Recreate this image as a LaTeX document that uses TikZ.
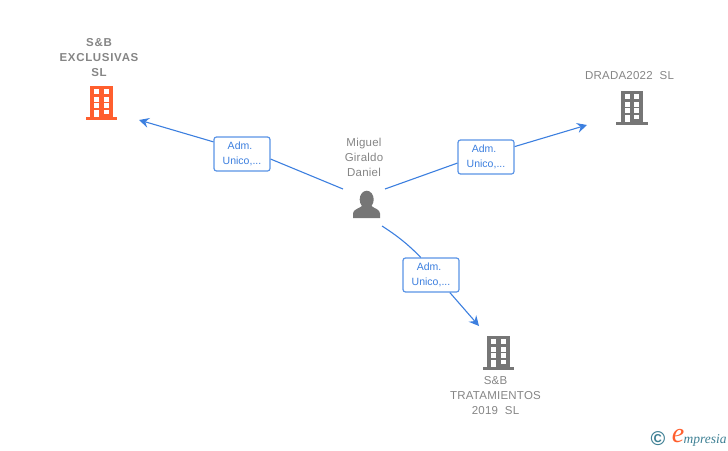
\documentclass[tikz,border=0pt]{standalone}
\usepackage{fontspec}
\setmainfont{Liberation Sans}
\newfontfamily\namefont[LetterSpace=2]{Liberation Sans}
\newfontfamily\boldnamefont[LetterSpace=6]{Liberation Sans Bold}
\newfontfamily\logofont{Liberation Serif}
\usepackage{tikz}
\usetikzlibrary{positioning,
                arrows.meta}

\definecolor{linkblue}{HTML}{3C7FDF}
\definecolor{boxblue}{HTML}{5A94E6}
\definecolor{greyicon}{HTML}{767676}
\definecolor{greytext}{HTML}{858585}
\definecolor{orangeicon}{HTML}{FF5F2E}
\definecolor{logoteal}{HTML}{3E8094}

\tikzset{
  rolebox/.style={draw=boxblue, line width=1.2pt, rounded corners=2.5pt, fill=white,
                  minimum width=56pt, minimum height=34pt, inner sep=0pt, text=linkblue,
                  align=center, font=\fontsize{10.5}{15}\selectfont},
  firmname/.style={text=greytext, align=center, inner sep=0pt,
                   font=\namefont\fontsize{11.5}{15}\selectfont},
  link/.style={draw=linkblue, line width=1.1pt},
  linkarrow/.style={link, -{Stealth[length=10pt, width=10pt, inset=3.5pt]}},
  pics/building/.style={code={
    \fill[#1] (0,0) rectangle (22.5,31);
    \fill[#1] (-4.5,31) rectangle (27,34);
    \foreach \y in {3.5,11,17.5}
    { \fill[white] (4,\y) rectangle (9,\y+5);
      \fill[white] (13.5,\y) rectangle (18.5,\y+5);
    }
    \fill[white] (4,24) rectangle (9,31);
    \fill[white] (13.5,24) rectangle (18.5,28);
  }}
}

\begin{document}
\begin{tikzpicture}[x=1pt, y=-1pt]
  \useasboundingbox (0,0) rectangle (728,450);

  % companies
  \pic at (90,85.7) {building=orangeicon};
  \pic at (620.5,90.5) {building=greyicon};
  \pic at (487,335.5) {building=greyicon};

  \node[firmname, font=\boldnamefont\fontsize{11.5}{15}\selectfont] (exclusivas) at (99,58) {S\&B\\EXCLUSIVAS\\SL};
  \node[firmname] (drada) at (629.5,76) {DRADA2022\ \ SL};
  \node[firmname] (tratamientos) at (495.5,396) {S\&B\\TRATAMIENTOS\\2019\ \ SL};
  \node[firmname] (miguel) at (364,157) {Miguel\\Giraldo\\Daniel};

  % person
  \fill[greyicon] (366.7,199.5) ellipse (7 and 8.8);
  \fill[greyicon] (353,218) -- (353,213.5) .. controls (353,209.5) and (359,208.5) .. (362,206)
    -- (371.5,206) .. controls (374.5,208.5) and (380,209.5) .. (380,213.5) -- (380,218) -- cycle;

  % role boxes
  \node[rolebox] (admleft) at (242,154) {\raisebox{-1pt}{Adm.\hspace*{4pt}}\\\raisebox{-1pt}{Unico,...}};
  \node[rolebox] (admright) at (486,157) {\raisebox{-1pt}{Adm.\hspace*{4pt}}\\\raisebox{-1pt}{Unico,...}};
  \node[rolebox] (admdown) at (431,275) {\raisebox{-1pt}{Adm.\hspace*{4pt}}\\\raisebox{-1pt}{Unico,...}};

  \coordinate (startleft) at (343,189);
  \coordinate (endleft) at (139,120);
  \coordinate (startright) at (385,189);
  \coordinate (endright) at (587,125);
  \coordinate (startdown) at (382,226);
  \coordinate (enddown) at (479,326);

  \draw[link] (startleft) -- (admleft.-10);
  \draw[linkarrow] (admleft.157) -- (endleft);
  \draw[link] (startright) -- (admright.192);
  \draw[linkarrow] (admright.20) -- (endright);
  \draw[link] (startdown) to[bend left=6] (admdown.120);
  \draw[linkarrow] (admdown.-43) -- (enddown);

  % logo
  \node[text=logoteal, inner sep=0pt, font=\bfseries\fontsize{20}{20}\selectfont] (copyright) at (658,438.5) {©};
  \node[text=orangeicon, inner sep=0pt, font=\logofont\itshape\fontsize{28}{28}\selectfont] (logoe) at (678,436) {e};
  \node[text=logoteal, inner sep=0pt, anchor=base west, font=\logofont\itshape\fontsize{13.5}{13.5}\selectfont] (logotext) at (683.5,443) {mpresia};
\end{tikzpicture}
\end{document}
